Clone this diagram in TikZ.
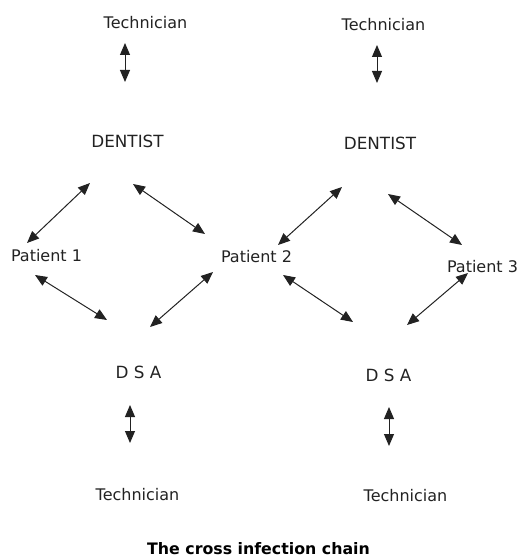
\documentclass[tikz,border=0pt]{standalone}
\usepackage{fontspec}
\setmainfont{DejaVu Sans}
\usetikzlibrary{arrows.meta}
\definecolor{ink}{HTML}{222222}
\begin{document}
\begin{tikzpicture}[x=1pt,y=-1pt,
  lbl/.style={inner sep=0pt,text=ink,font=\fontsize{16}{19}\selectfont},
  caps/.style={inner sep=0pt,text=ink,font=\fontsize{16.8}{19}\selectfont},
  ttl/.style={inner sep=0pt,text=black,font=\fontsize{15.8}{19}\selectfont\bfseries},
  link/.style={draw=ink,line width=1pt,{Triangle[length=12pt,width=10pt]}-{Triangle[length=12pt,width=10pt]}}]
\useasboundingbox (0,0) rectangle (521,559);
% labels
\node[lbl] (techTL) at (145.5,22.5) {Technician};
\node[lbl] (techTR) at (383.5,24.5) {Technician};
\node[caps] (dentL) at (127.5,141) {DENTIST};
\node[caps] (dentR) at (380,143) {DENTIST};
\node[lbl] (p1) at (46.5,255.5) {Patient 1};
\node[lbl] (p2) at (256.5,256.5) {Patient 2};
\node[lbl] (p3) at (482.5,266.5) {Patient 3};
\node[caps] (dsaL) at (138.5,372.5) {D S A};
\node[caps] (dsaR) at (388.5,375) {D S A};
\node[lbl] (techBL) at (137.5,494.5) {Technician};
\node[lbl] (techBR) at (405.5,495.5) {Technician};
\node[ttl] (title) at (258.5,549) {The cross infection chain};
% arrow end points
\coordinate (a1s) at (125,43);  \coordinate (a1e) at (125,82);
\coordinate (a2s) at (377,45);  \coordinate (a2e) at (377,83);
\coordinate (a3s) at (90,183);  \coordinate (a3e) at (27,243);
\coordinate (a4s) at (133,184); \coordinate (a4e) at (205,234);
\coordinate (a5s) at (342,187); \coordinate (a5e) at (278,245);
\coordinate (a6s) at (388,194); \coordinate (a6e) at (462,245);
\coordinate (a7s) at (35,275);  \coordinate (a7e) at (107,320);
\coordinate (a8s) at (213,272); \coordinate (a8e) at (150,327);
\coordinate (a9s) at (283,275); \coordinate (a9e) at (353,322);
\coordinate (a10s) at (468,273); \coordinate (a10e) at (407,325);
\coordinate (a11s) at (130,405); \coordinate (a11e) at (130,443);
\coordinate (a12s) at (389,407); \coordinate (a12e) at (389,446);
% connectors
\foreach \i in {1,...,12} {\draw[link] (a\i s) -- (a\i e);}
\end{tikzpicture}
\end{document}
